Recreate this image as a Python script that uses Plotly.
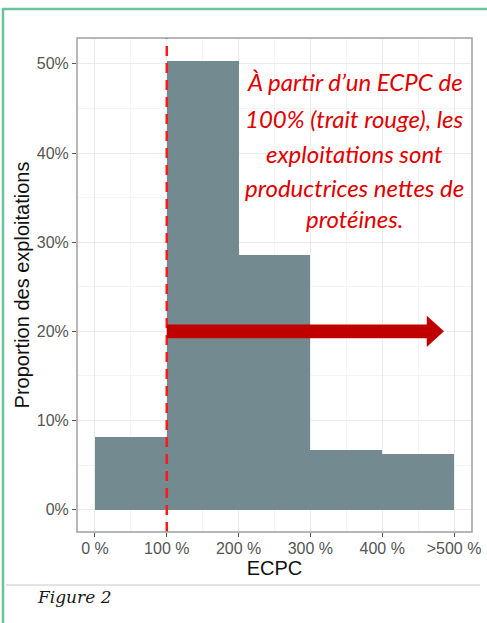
import plotly.graph_objects as go

# ---- data ----
bin_left = [0, 100, 200, 300, 400]
bin_width = 100
proportions = [8.2, 50.3, 28.6, 6.7, 6.2]
tick_vals = [0, 100, 200, 300, 400, 500]
tick_labels = ["0 %", "100 %", "200 %", "300 %", "400 %", ">500 %"]
y_ticks = [0, 10, 20, 30, 40, 50]
threshold = 100
arrow_start, arrow_head, arrow_end, arrow_y = 100, 462, 486, 20
note_lines = ["À partir d’un ECPC de", "100% (trait rouge), les",
              "exploitations sont", "productrices nettes de", "protéines."]
note_y = [48.0, 43.9, 40.0, 36.1, 32.7]
note_x = 362

W, H = 487, 623
L, R, T, B = 77, 15, 38, 91
pw, ph = W - L - R, H - T - B

def px(x):
    return (x - L) / pw

def py(y):
    return (H - B - y) / ph

fig = go.Figure()
fig.add_trace(go.Bar(
    x=bin_left, y=proportions, width=bin_width, offset=0,
    marker=dict(color="#738a90", line=dict(width=0)),
    hoverinfo="skip", showlegend=False,
))

shapes = []
# red dashed threshold line
shapes.append(dict(type="line", xref="x", yref="paper", x0=threshold, x1=threshold,
                   y0=0, y1=1, line=dict(color="#ff1a1a", width=2.5, dash="10px,7px")))
# arrow (shaft + head)
sh, hh = 0.78, 1.74
path = (f"M{arrow_start},{arrow_y - sh} L{arrow_head},{arrow_y - sh} L{arrow_head},{arrow_y - hh} "
        f"L{arrow_end},{arrow_y} L{arrow_head},{arrow_y + hh} L{arrow_head},{arrow_y + sh} "
        f"L{arrow_start},{arrow_y + sh} Z")
shapes.append(dict(type="path", xref="x", yref="y", path=path,
                   fillcolor="#c00000", line=dict(width=0)))
# page frame
green = "#6cc49c"
shapes.append(dict(type="line", xref="paper", yref="paper", x0=px(3), x1=px(3),
                   y0=py(8), y1=py(H + 5), line=dict(color=green, width=2.5)))
shapes.append(dict(type="line", xref="paper", yref="paper", x0=px(2), x1=px(W + 5),
                   y0=py(9), y1=py(9), line=dict(color=green, width=2.5)))
# separator
shapes.append(dict(type="line", xref="paper", yref="paper", x0=px(6), x1=px(480),
                   y0=py(585), y1=py(585), line=dict(color="#c8c8c8", width=1)))
# panel border
shapes.append(dict(type="rect", xref="paper", yref="paper", x0=0, x1=1, y0=0, y1=1,
                   line=dict(color="#a0a0a0", width=1.5), layer="above"))

annotations = []
for t, yv in zip(note_lines, note_y):
    annotations.append(dict(x=note_x, y=yv, xref="x", yref="y", text=t, showarrow=False,
                            font=dict(family="Lato", size=24, color="#e00000", style="italic"),
                            xanchor="center", yanchor="middle"))
annotations.append(dict(x=px(35), y=py(597), xref="paper", yref="paper", text="Figure 2",
                        showarrow=False, xanchor="left", yanchor="middle",
                        font=dict(family="DejaVu Serif", size=17, color="#1a1a1a", style="italic")))

fig.update_layout(
    width=W, height=H,
    margin=dict(l=L, r=R, t=T, b=B),
    paper_bgcolor="white", plot_bgcolor="white",
    shapes=shapes, annotations=annotations,
    bargap=0,
    font=dict(family="Liberation Sans"),
)
fig.update_xaxes(
    range=[-25, 525], tickvals=tick_vals, ticktext=tick_labels,
    showgrid=True, gridcolor="#ebebeb", gridwidth=1,
    minor=dict(tickvals=[50, 150, 250, 350, 450], showgrid=True, gridcolor="#f4f4f4", gridwidth=1),
    ticks="outside", ticklen=4, tickcolor="#555555", ticklabelstandoff=-2,
    tickfont=dict(size=16, color="#555555", family="Liberation Sans"),
    title=dict(text="ECPC", font=dict(size=20, color="#111111"), standoff=0),
    zeroline=False, showline=False, automargin=False,
)
fig.update_yaxes(
    range=[-2.5, 52.9], tickvals=y_ticks, ticktext=[f"{v}%" for v in y_ticks],
    showgrid=True, gridcolor="#ebebeb", gridwidth=1,
    minor=dict(tickvals=[5, 15, 25, 35, 45], showgrid=True, gridcolor="#f4f4f4", gridwidth=1),
    ticks="outside", ticklen=4, tickcolor="#555555",
    tickfont=dict(size=16, color="#555555", family="Liberation Sans"),
    title=dict(text="Proportion des exploitations", font=dict(size=20, color="#111111"), standoff=1),
    zeroline=False, showline=False, automargin=False,
)

fig.write_html("out.html", config={"displayModeBar": False},
               post_script="document.body.style.margin='0';document.body.style.overflow='hidden';")
